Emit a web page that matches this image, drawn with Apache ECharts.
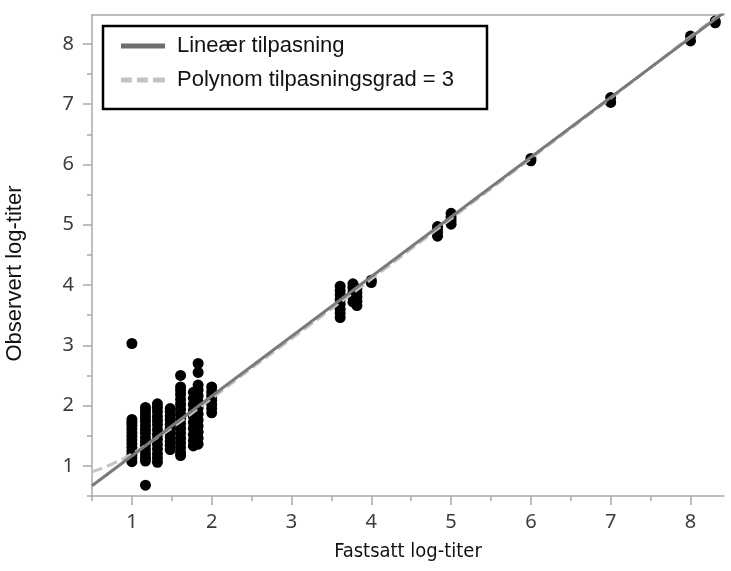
<!DOCTYPE html>
<html>
<head>
<meta charset="utf-8">
<script src="https://cdn.jsdelivr.net/npm/echarts@6/dist/echarts.min.js"></script>
<style>
html,body{margin:0;padding:0;background:#fff;}
#chart{width:731px;height:571px;}
</style>
</head>
<body>
<div id="chart"></div>
<script>
// ---- data ----
const xTickLabels = [1, 2, 3, 4, 5, 6, 7, 8];
const yTickLabels = [1, 2, 3, 4, 5, 6, 7, 8];
const xMinorTicks = [0.5, 1.5, 2.5, 3.5, 4.5, 5.5, 6.5, 7.5];
const yMinorTicks = [0.5, 1.5, 2.5, 3.5, 4.5, 5.5, 6.5, 7.5];

// scatter columns: fixed (x) and observed (y) log-titers
const columnX = [1.00, 1.17, 1.32, 1.48, 1.61, 1.77, 1.83, 2.00, 3.61, 3.77, 3.82, 4.00, 4.83, 5.00, 6.00, 7.00, 8.00, 8.31];
const columnY = [
  [1.07, 1.13, 1.19, 1.25, 1.31, 1.37, 1.43, 1.49, 1.55, 1.61, 1.67, 1.72, 1.77, 3.03],
  [0.68, 1.08, 1.14, 1.20, 1.27, 1.34, 1.40, 1.47, 1.54, 1.60, 1.67, 1.74, 1.80, 1.86, 1.92, 1.97],
  [1.06, 1.13, 1.20, 1.28, 1.36, 1.44, 1.52, 1.60, 1.68, 1.75, 1.82, 1.90, 1.97, 2.03],
  [1.27, 1.34, 1.41, 1.48, 1.55, 1.62, 1.69, 1.76, 1.83, 1.90, 1.95],
  [1.17, 1.22, 1.30, 1.38, 1.46, 1.54, 1.62, 1.70, 1.78, 1.86, 1.94, 2.02, 2.10, 2.18, 2.25, 2.31, 2.50],
  [1.33, 1.42, 1.52, 1.62, 1.72, 1.82, 1.92, 2.02, 2.12, 2.22],
  [1.36, 1.46, 1.56, 1.66, 1.76, 1.86, 1.96, 2.06, 2.16, 2.26, 2.34, 2.55, 2.70],
  [1.88, 1.95, 2.02, 2.09, 2.16, 2.23, 2.31],
  [3.46, 3.53, 3.60, 3.68, 3.76, 3.84, 3.91, 3.98],
  [3.72, 3.80, 3.88, 3.96, 4.02],
  [3.66, 3.73, 3.80, 3.87, 3.94],
  [4.04, 4.08],
  [4.81, 4.87, 4.93, 4.97],
  [5.01, 5.07, 5.13, 5.19],
  [6.06, 6.10],
  [7.03, 7.11],
  [8.05, 8.13],
  [8.35, 8.38]
];

// fitted lines
const linearX = [0.5, 8.42];
const linearY = [0.67, 8.52];
const polyX = [0.5, 0.75, 1.0, 1.25, 1.5, 2.0, 2.5, 3.0, 4.0, 5.0, 6.0, 7.0, 8.0, 8.42];
const polyY = [0.90, 1.03, 1.20, 1.41, 1.63, 2.12, 2.62, 3.11, 4.10, 5.10, 6.10, 7.10, 8.12, 8.54];

const seriesNames = ['Lineær tilpasning', 'Polynom tilpasningsgrad = 3'];
const xTitle = 'Fastsatt log-titer';
const yTitle = 'Observert log-titer';

// ---- build ----
const scatterData = [];
columnX.forEach((x, i) => columnY[i].forEach(y => scatterData.push([x, y])));
const linearData = linearX.map((x, i) => [x, linearY[i]]);
const polyData = polyX.map((x, i) => [x, polyY[i]]);

const axisGray = '#a9a9a9';
const tickFont = {fontFamily: 'Noto Sans', fontSize: 20, color: '#3c3c3c'};
const X_MIN = 0.5, X_MAX = 8.42, Y_MIN = 0.5, Y_MAX = 8.48;

const chart = echarts.init(document.getElementById('chart'), null, {renderer: 'canvas'});
chart.setOption({
  animation: false,
  backgroundColor: '#ffffff',
  grid: {left: 92, right: 7, top: 15, bottom: 75, containLabel: false, outerBoundsMode: 'none'},
  legend: {
    orient: 'vertical',
    left: 103, top: 26,
    padding: [9, 33, 18, 18],
    itemGap: 12,
    itemWidth: 44, itemHeight: 20,
    symbolKeepAspect: true,
    borderColor: '#000', borderWidth: 2.5,
    backgroundColor: '#fff',
    textStyle: {fontFamily: 'Liberation Sans', fontSize: 22, color: '#111', padding: [0, 0, 0, 7]},
    data: [
      {name: seriesNames[0], icon: 'path://M0,0h44v5h-44z'},
      {name: seriesNames[1], icon: 'path://M0,0h11v5h-11z M16,0h11v5h-11z M32,0h12v5h-12z'}
    ]
  },
  xAxis: [
    {
      type: 'value', min: X_MIN, max: X_MAX, interval: 0.5, position: 'bottom',
      name: xTitle, nameLocation: 'middle', nameGap: 46,
      nameTextStyle: {fontFamily: "'DejaVu Sans Condensed', 'Liberation Sans Narrow', 'Roboto', sans-serif", fontSize: 20, color: '#111'},
      axisLine: {show: true, lineStyle: {color: axisGray, width: 1.5}},
      axisTick: {show: true, customValues: xTickLabels, length: 9, lineStyle: {color: axisGray, width: 1.5}},
      axisLabel: Object.assign({customValues: xTickLabels, margin: 16, formatter: v => String(v)}, tickFont),
      splitLine: {show: false}
    },
    {
      type: 'value', min: X_MIN, max: X_MAX, interval: 0.5, position: 'bottom',
      axisLine: {show: false},
      axisTick: {show: true, customValues: xMinorTicks, length: 5, lineStyle: {color: axisGray, width: 1.5}},
      axisLabel: {show: false},
      splitLine: {show: false}
    },
    {
      type: 'value', min: X_MIN, max: X_MAX, position: 'top',
      axisLine: {show: true, lineStyle: {color: axisGray, width: 1.5}},
      axisTick: {show: false}, axisLabel: {show: false}, splitLine: {show: false}
    }
  ],
  yAxis: [
    {
      type: 'value', min: Y_MIN, max: Y_MAX, interval: 0.5, position: 'left',
      name: yTitle, nameLocation: 'middle', nameGap: 66, nameRotate: 90,
      nameTextStyle: {fontFamily: 'Liberation Sans', fontSize: 22, color: '#111', padding: [0, 36, 0, 0]},
      axisLine: {show: true, lineStyle: {color: axisGray, width: 1.5}},
      axisTick: {show: true, customValues: yTickLabels, length: 9, lineStyle: {color: axisGray, width: 1.5}},
      axisLabel: Object.assign({customValues: yTickLabels, margin: 18, formatter: v => String(v)}, tickFont),
      splitLine: {show: false}
    },
    {
      type: 'value', min: Y_MIN, max: Y_MAX, interval: 0.5, position: 'left',
      axisLine: {show: false},
      axisTick: {show: true, customValues: yMinorTicks, length: 5, lineStyle: {color: axisGray, width: 1.5}},
      axisLabel: {show: false},
      splitLine: {show: false}
    }
  ],
  series: [
    {
      type: 'scatter', name: 'Data', xAxisIndex: 0, yAxisIndex: 0,
      data: scatterData, symbol: 'circle', symbolSize: 11,
      itemStyle: {color: '#000', opacity: 1}, z: 2, silent: true
    },
    {
      type: 'line', name: seriesNames[0], xAxisIndex: 0, yAxisIndex: 0,
      data: linearData, symbol: 'none', clip: true,
      lineStyle: {color: '#7a7a7a', width: 3}, itemStyle: {color: '#6f6f6f'}, z: 4
    },
    {
      type: 'line', name: seriesNames[1], xAxisIndex: 0, yAxisIndex: 0,
      data: polyData, symbol: 'none', smooth: true, clip: true,
      lineStyle: {color: '#c4c4c4', width: 3, type: [11, 5]}, itemStyle: {color: '#c4c4c4'}, z: 3
    }
  ]
});
</script>
</body>
</html>
